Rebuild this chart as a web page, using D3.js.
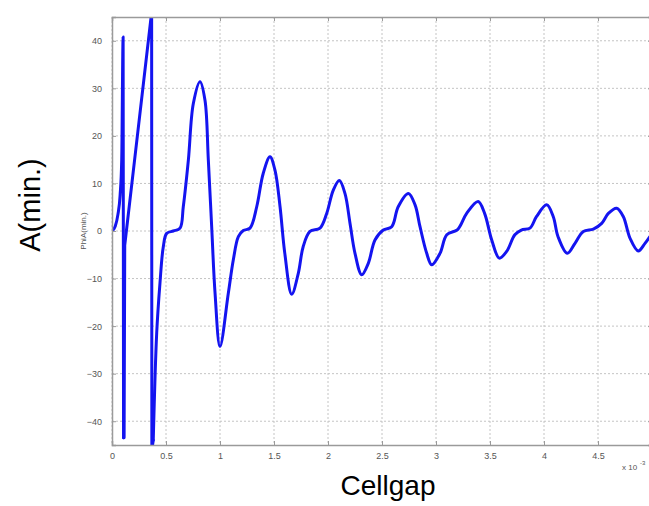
<!DOCTYPE html>
<html>
<head>
<meta charset="utf-8">
<script src="https://cdn.jsdelivr.net/npm/d3@7"></script>
<style>
  body { margin: 0; background: #fff; }
  svg { display: block; }
</style>
</head>
<body>
<svg id="chart" width="649" height="506"></svg>
<script>
// cell gap (x 10^-3) and PhiA(min.)
var gapValues = [0, 0.03, 0.055, 0.075, 0.09, 0.103, 0.107, 0.112, 0.118, 0.24, 0.367, 0.369,
  0.382, 0.414, 0.444, 0.475, 0.506, 0.568, 0.63, 0.66, 0.707, 0.753, 0.815, 0.861, 0.892, 0.923, 0.954, 1.0,
  1.077, 1.123, 1.17, 1.216, 1.278, 1.34, 1.40, 1.463, 1.509, 1.556, 1.60, 1.664,
  1.725, 1.77, 1.833, 1.926, 1.988, 2.049, 2.105, 2.157, 2.204, 2.25, 2.312,
  2.373, 2.435, 2.512, 2.59, 2.65, 2.744, 2.806, 2.852, 2.914, 2.96,
  3.037, 3.1, 3.2, 3.284, 3.39, 3.45, 3.516, 3.586,
  3.654, 3.73, 3.79, 3.87, 3.93, 4.025, 4.086, 4.13, 4.216,
  4.287, 4.364, 4.457, 4.534, 4.596, 4.673, 4.735, 4.796, 4.873, 4.935, 5.0];
var phiValues = [0, 1, 3.5, 7.5, 15, 40.8, -43.5, -43.5, -3, 21, 46, -46,
  -44, -21.4, -11, -3.3, -0.5, 0, 0.6, 5.1, 14.9, 26.8, 31.4, 27.5, 14.9, 0.9, -13, -24.3,
  -13.1, -6.1, -1.2, 0.1, 0.6, 5.1, 12.1, 15.6, 12.8, 5.1, -4.7, -13.3,
  -8.9, -3.3, -0.1, 0.6, 3.7, 8.6, 10.6, 7.9, 1.6, -4.7, -9.2,
  -6.8, -1.9, 0.2, 0.9, 5.1, 7.9, 5.5, 0.9, -4.7, -7.1,
  -4.7, -0.8, 0.3, 3.7, 6.2, 3.7, -1.9, -5.7,
  -4.3, -0.8, 0.2, 0.6, 3.0, 5.5, 3.0, -1.2, -4.7,
  -2.6, -0.1, 0.4, 1.6, 3.7, 4.8, 3.0, -1.5, -4.2, -2.6, -0.5];
var xTicks = [0, 0.5, 1, 1.5, 2, 2.5, 3, 3.5, 4, 4.5, 5];
var yTicks = [-40, -30, -20, -10, 0, 10, 20, 30, 40];

var svg = d3.select("#chart");
var plotLeft = 112, plotRight = 652, plotTop = 17, plotBottom = 445;

var x = d3.scaleLinear().domain([0, 5]).range([plotLeft, plotRight]);
var y = d3.scaleLinear().domain([-45, 45]).range([plotBottom, plotTop]);

var points = gapValues.map(function(g, i) { return [g, phiValues[i]]; });

// dotted grid
var grid = svg.append("g").attr("stroke", "#c4c4c4").attr("stroke-width", 1)
  .attr("stroke-dasharray", "2,2");
grid.selectAll(".gx").data(xTicks).enter().append("line")
  .attr("x1", function(d) { return x(d); }).attr("x2", function(d) { return x(d); })
  .attr("y1", plotTop).attr("y2", plotBottom);
grid.selectAll(".gy").data(yTicks).enter().append("line")
  .attr("x1", plotLeft).attr("x2", plotRight)
  .attr("y1", function(d) { return y(d); }).attr("y2", function(d) { return y(d); });

// curve: the wrap-around jumps are drawn straight, the oscillation smooth
svg.append("clipPath").attr("id", "plotclip").append("rect")
  .attr("x", plotLeft).attr("y", plotTop).attr("width", plotRight - plotLeft).attr("height", plotBottom - plotTop);

function makeLine(curve) {
  return d3.line()
    .x(function(d) { return x(d[0]); })
    .y(function(d) { return y(d[1]); })
    .curve(curve);
}
var pieces = [
  { pts: points.slice(0, 7), curve: d3.curveMonotoneX },
  { pts: points.slice(6, 13), curve: d3.curveLinear },
  { pts: points.slice(12), curve: d3.curveCatmullRom.alpha(0.5) }
];

svg.append("g").attr("clip-path", "url(#plotclip)")
  .selectAll("path").data(pieces).enter().append("path")
  .attr("fill", "none")
  .attr("stroke", "#1414f0")
  .attr("stroke-width", 3)
  .attr("stroke-linejoin", "round")
  .attr("stroke-linecap", "round")
  .attr("d", function(p) { return makeLine(p.curve)(p.pts); });

// axes, matlab style ticks pointing in
var axisColor = "#9a9a9a";
var xAxis = svg.append("g").attr("transform", "translate(0," + plotBottom + ")")
  .call(d3.axisBottom(x).tickValues(xTicks).tickSize(-4).tickPadding(8)
    .tickFormat(function(d) { return d3.format("")(d); }));
var yAxis = svg.append("g").attr("transform", "translate(" + plotLeft + ",0)")
  .call(d3.axisLeft(y).tickValues(yTicks).tickSize(-4).tickPadding(10));
var xTop = svg.append("g").attr("transform", "translate(0," + plotTop + ")")
  .call(d3.axisTop(x).tickValues(xTicks).tickSize(-4).tickFormat(""));
var yRight = svg.append("g").attr("transform", "translate(" + plotRight + ",0)")
  .call(d3.axisRight(y).tickValues(yTicks).tickSize(-4).tickFormat(""));

[xAxis, yAxis, xTop, yRight].forEach(function(a) {
  a.select(".domain").attr("stroke", axisColor).attr("stroke-width", 1.5);
  a.selectAll(".tick line").attr("stroke", axisColor);
  a.selectAll(".tick text").attr("fill", "#555").style("font-family", "Liberation Sans, Arial, sans-serif")
    .style("font-size", "9px");
});

// small labels
svg.append("text")
  .attr("x", 622).attr("y", 470)
  .attr("fill", "#555").style("font-family", "Liberation Sans, Arial, sans-serif").style("font-size", "8px")
  .text("x 10");
svg.append("text")
  .attr("x", 640).attr("y", 465)
  .attr("fill", "#555").style("font-family", "Liberation Sans, Arial, sans-serif").style("font-size", "6px")
  .text("-3");
svg.append("text")
  .attr("transform", "translate(86,231) rotate(-90)")
  .attr("text-anchor", "middle")
  .attr("fill", "#555").style("font-family", "Liberation Sans, Arial, sans-serif").style("font-size", "8px")
  .text("PhiA(min.)");

// big labels
svg.append("text")
  .attr("x", 388).attr("y", 495)
  .attr("text-anchor", "middle")
  .style("font-family", "Liberation Sans, Arial, sans-serif").style("font-size", "28px")
  .text("Cellgap");
svg.append("text")
  .attr("transform", "translate(40,205) rotate(-90)")
  .attr("text-anchor", "middle")
  .style("font-family", "Liberation Sans, Arial, sans-serif").style("font-size", "29px")
  .text("A(min.)");
</script>
</body>
</html>
